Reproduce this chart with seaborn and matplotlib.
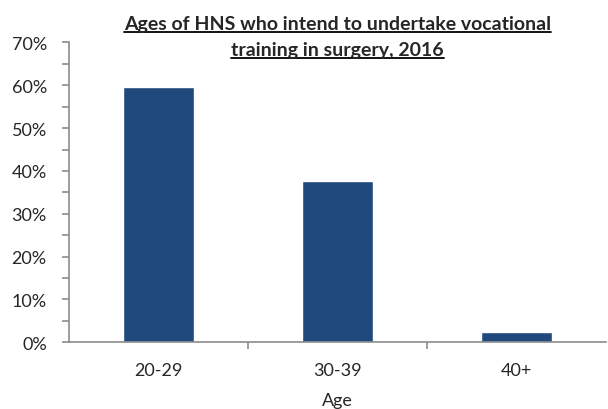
import matplotlib
matplotlib.use("Agg")
import matplotlib.pyplot as plt
import seaborn as sns
import pandas as pd
from matplotlib.lines import Line2D
from matplotlib.ticker import MultipleLocator, PercentFormatter, FixedLocator

ages = ["20-29", "30-39", "40+"]
shares = [0.597, 0.377, 0.023]
title_lines = ["Ages of HNS who intend to undertake vocational",
               "training in surgery, 2016"]

BAR = "#1F497D"
AXIS = "#8C8C8C"

sns.set_theme(style="white")
plt.rcParams["font.family"] = ["Lato", "DejaVu Sans"]

df = pd.DataFrame({"Age": ages, "Share": shares})

fig = plt.figure(figsize=(6.08, 4.10), dpi=100)
ax = fig.add_axes([0.1135, 0.1627, 0.8835, 0.7313])

sns.barplot(data=df, x="Age", y="Share", color=BAR, saturation=1,
            width=0.4, ax=ax)

ax.set_xlim(-0.5, 2.5)
ax.set_ylim(0, 0.7)
ax.yaxis.set_major_locator(MultipleLocator(0.1))
ax.yaxis.set_minor_locator(MultipleLocator(0.05))
ax.yaxis.set_major_formatter(PercentFormatter(1.0, decimals=0))
ax.xaxis.set_minor_locator(FixedLocator([0.5, 1.5]))

for s in ["top", "right"]:
    ax.spines[s].set_visible(False)
for s in ["left", "bottom"]:
    ax.spines[s].set_color(AXIS)
    ax.spines[s].set_linewidth(1.2)

ax.tick_params(axis="y", which="both", direction="out", length=5,
               width=1.2, color=AXIS, labelsize=13, pad=11, left=True)
ax.tick_params(axis="x", which="major", length=0, labelsize=13, pad=14)
ax.tick_params(axis="x", which="minor", direction="out", length=5,
               width=1.2, color=AXIS, bottom=True)

ax.set_xlabel("Age", fontsize=13, labelpad=10)
ax.set_ylabel("")

# title, two lines, bold and underlined
texts = []
for i, base in enumerate([30, 56]):
    t = fig.text(0.555, 1 - base / 410, title_lines[i], ha="center",
                 va="baseline", fontsize=14, fontweight="bold")
    texts.append(t)

fig.canvas.draw()
r = fig.canvas.get_renderer()
inv = fig.transFigure.inverted()
for t, base in zip(texts, [30, 56]):
    bb = t.get_window_extent(renderer=r)
    (x0, _), (x1, _) = inv.transform([[bb.x0, bb.y0], [bb.x1, bb.y1]])
    yu = 1 - (base + 2.5) / 410
    fig.add_artist(Line2D([x0, x1], [yu, yu], color="black", lw=1.3,
                          transform=fig.transFigure))

fig.savefig("out.png", dpi=100)
